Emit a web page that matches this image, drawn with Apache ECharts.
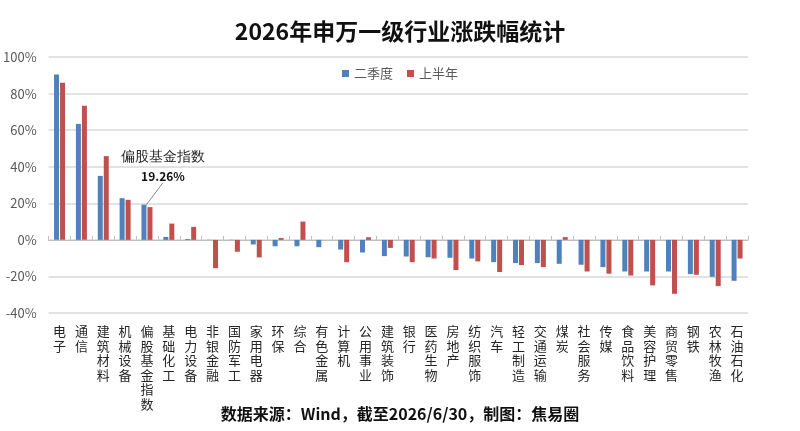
<!DOCTYPE html>
<html>
<head>
<meta charset="utf-8">
<script src="https://cdn.jsdelivr.net/npm/echarts@6/dist/echarts.min.js"></script>
<style>
  html, body { margin: 0; padding: 0; background: #fff; }
  #chart { width: 800px; height: 431px; }
</style>
</head>
<body>
<div id="chart"></div>
<script>
// 申万一级行业 + 偏股基金指数
const industries = [
  '电子', '通信', '建筑材料', '机械设备', '偏股基金指数', '基础化工', '电力设备', '非银金融',
  '国防军工', '家用电器', '环保', '综合', '有色金属', '计算机', '公用事业', '建筑装饰',
  '银行', '医药生物', '房地产', '纺织服饰', '汽车', '轻工制造', '交通运输', '煤炭',
  '社会服务', '传媒', '食品饮料', '美容护理', '商贸零售', '钢铁', '农林牧渔', '石油石化'
];
// 二季度涨跌幅 (%)
const q2Values = [
  90.4, 63.4, 35.0, 22.8, 19.26, 1.6, 0.5, 0.1,
  0.1, -2.5, -3.5, -3.5, -4.0, -5.3, -6.9, -8.9,
  -9.1, -9.5, -9.8, -10.2, -12.2, -12.7, -12.7, -13.1,
  -13.6, -14.9, -17.3, -17.3, -17.3, -18.7, -20.2, -22.4
];
// 上半年涨跌幅 (%)
const h1Values = [
  85.9, 73.4, 45.8, 21.9, 17.9, 8.9, 7.1, -15.5,
  -6.5, -9.6, 1.0, 10.0, 0.0, -12.2, 1.4, -4.4,
  -12.2, -10.2, -16.5, -11.8, -17.6, -13.8, -14.9, 1.5,
  -17.3, -18.5, -19.5, -24.9, -29.5, -19.1, -25.3, -10.2
];
const yTicks = { min: -40, max: 100, interval: 20 };
const fundIndex = industries.indexOf('偏股基金指数');

const chart = echarts.init(document.getElementById('chart'));

const font = '"Noto Sans CJK SC", "Microsoft YaHei", sans-serif';

const option = {
  backgroundColor: '#fff',
  textStyle: { fontFamily: font },
  title: [
    {
      text: '2026年申万一级行业涨跌幅统计',
      left: 'center',
      top: 20,
      padding: 0,
      textStyle: { fontSize: 23, fontWeight: 'bold', color: '#111', fontFamily: font }
    },
    {
      text: '数据来源：Wind，截至2026/6/30，制图：焦易圈',
      left: 'center',
      top: 406,
      padding: 0,
      textStyle: { fontSize: 16, fontWeight: 'bold', color: '#111', fontFamily: font }
    }
  ],
  legend: {
    data: ['二季度', '上半年'],
    top: 62,
    left: 'center',
    icon: 'rect',
    itemWidth: 7,
    itemHeight: 7,
    itemGap: 14,
    textStyle: { fontSize: 13, color: '#595959' }
  },
  grid: {
    left: 48,
    right: 52,
    top: 57,
    bottom: 118,
    containLabel: false
  },
  xAxis: [
    {
      type: 'category',
      data: industries,
      axisLine: { onZero: true, lineStyle: { color: '#bfbfbf' } },
      axisTick: { show: true, inside: true, length: 4, interval: 0, lineStyle: { color: '#bfbfbf' } },
      axisLabel: { show: false }
    },
    {
      type: 'category',
      data: industries,
      position: 'bottom',
      axisLine: { show: false, onZero: false },
      axisTick: { show: false },
      axisLabel: {
        interval: 0,
        margin: 11,
        fontSize: 13,
        lineHeight: 14.5,
        color: '#262626',
        verticalAlign: 'top',
        formatter: (v) => v.split('').join('\n')
      }
    }
  ],
  yAxis: {
    type: 'value',
    min: yTicks.min,
    max: yTicks.max,
    interval: yTicks.interval,
    axisLine: { show: false },
    axisTick: { show: false },
    axisLabel: { formatter: '{value}%', fontSize: 13, color: '#595959', margin: 12 },
    splitLine: { lineStyle: { color: '#d9d9d9', width: 1.5 } }
  },
  series: [
    {
      name: '二季度',
      type: 'bar',
      xAxisIndex: 0,
      data: q2Values.map((v, i) => i === fundIndex ? {
        value: v,
        label: {
          show: true,
          position: 'top',
          formatter: (p) => '{a|偏股基金指数}\n{b|' + p.value.toFixed(2) + '%}',
          rich: {
            a: { fontSize: 14, color: '#262626', lineHeight: 20, align: 'center', fontFamily: '"DejaVu Serif", serif' },
            b: { fontSize: 12, fontWeight: 'bold', color: '#111', lineHeight: 18, align: 'center' }
          }
        },
        labelLine: { show: true, lineStyle: { color: '#8c8c8c', width: 1 } }
      } : v),
      labelLayout: { dx: 19, dy: -14 },
      barWidth: 5,
      barGap: '20%',
      itemStyle: { color: '#4F81BD' }
    },
    {
      name: '上半年',
      type: 'bar',
      xAxisIndex: 0,
      data: h1Values,
      barWidth: 5,
      itemStyle: { color: '#C0504D' }
    }
  ]
};

chart.setOption(option);
</script>
</body>
</html>
